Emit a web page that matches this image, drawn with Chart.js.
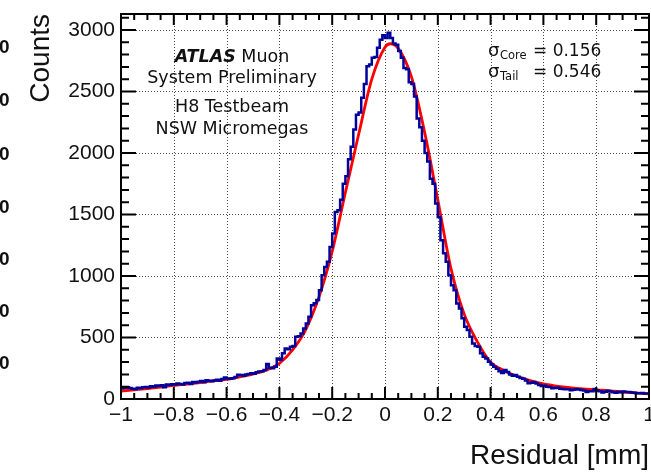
<!DOCTYPE html>
<html>
<head>
<meta charset="utf-8">
<script src="https://cdn.jsdelivr.net/npm/chart.js@4"></script>
<style>
  body { margin: 0; background: #fff; }
  #wrap { width: 651px; height: 476px; }
</style>
</head>
<body>
<div id="wrap"><canvas id="residualChart" width="651" height="476"></canvas></div>
<script>
// histogram: 200 bins of 0.01 mm between -1 and 1
var binLow = -1;
var binWidth = 0.01;
var counts = [
    78, 88, 92, 96, 90,        84, 82, 92, 88, 95,
    98, 94, 104, 100, 110,     106, 112, 96, 118, 114,
    120, 118, 126, 122, 117,   130, 132, 122, 138, 135,
    140, 146, 136, 152, 148,   144, 150, 156, 148, 162,
    174, 166, 164, 168, 178,   198, 196, 190, 200, 204,
    210, 206, 218, 224, 226,   235, 284, 255, 250, 262,
    330, 320, 371, 411, 405,   424, 430, 506, 510, 533,
    574, 614, 668, 763, 779,   804, 885, 1006, 1074, 1115,
    1236, 1345, 1520, 1534, 1620,  1750, 1810, 1950, 2050, 2190,
    2310, 2330, 2450, 2560, 2705,  2720, 2775, 2780, 2855, 2920,
    2957, 2935, 2977, 2935, 2890,  2880, 2830, 2775, 2690, 2680,
    2576, 2560, 2460, 2280, 2210,  2100, 2000, 1930, 1790, 1750,
    1590, 1480, 1290, 1185, 1115,  1006, 925, 885, 777, 736,
    657, 587, 560, 506, 452,   430, 424, 371, 343, 330,
    303, 281, 262, 245, 225,   212, 235, 220, 200, 190,
    196, 180, 170, 164, 150,   128, 132, 138, 125, 114,
    106, 108, 100, 98, 88,     90, 92, 84, 82, 80,
    79, 72, 76, 80, 78,        74, 70, 56, 62, 64,
    82, 70, 62, 52, 58,        67, 60, 54, 50, 58,
    55, 60, 57, 56, 52,        50, 47, 46, 48, 44
];

// red fit curve
var fitX = [-1, -0.95, -0.9, -0.85, -0.8, -0.75, -0.7, -0.65, -0.6, -0.55, -0.5, -0.45, -0.4, -0.35,
    -0.3, -0.25, -0.2, -0.15, -0.1, -0.05, 0, 0.02, 0.05, 0.1, 0.15, 0.2, 0.25, 0.3, 0.35, 0.4,
    0.45, 0.5, 0.55, 0.6, 0.65, 0.7, 0.75, 0.8, 0.85, 0.9, 0.95, 1];
var fitY = [65, 75, 85, 97, 111, 122, 134, 147, 160, 180, 203, 235, 290, 400,
    565, 830, 1200, 1680, 2150, 2600, 2860, 2888, 2850, 2620, 2170, 1620, 1060, 690, 465, 300,
    232, 185, 150, 122, 105, 92, 82, 75, 66, 57, 49, 42];

var xMin = -1, xMax = 1, xTickStep = 0.2, xMinorStep = 0.05;
var yMin = 0, yMax = 3130, yTickStep = 500, yMinorStep = 100;

var histColor = '#00009c';
var fitColor = '#ff0000';
var labelFont = "'Liberation Sans', Arial, Helvetica, sans-serif";
var textFont = "'DejaVu Sans', Verdana, sans-serif";

// histogram outline as steps: one point per lower bin edge plus the closing edge
var histPoints = counts.map((c, i) => ({ x: binLow + i * binWidth, y: c }));
histPoints.push({ x: binLow + counts.length * binWidth, y: counts[counts.length - 1] });

var fitPoints = fitX.map((x, i) => ({ x: x, y: fitY[i] }));

function fmtTick(v) {
    var s = String(Math.round(v * 10) / 10);
    return s.replace('-', '\u2212');
}

// major tick values, so the y axis does not get stretched to 3130/6 steps
function majorTicks(lo, hi, step) {
    var out = [];
    for (var i = 0; lo + i * step <= hi + 1e-9; i++) {
        out.push({ value: Math.round((lo + i * step) * 1000) / 1000 });
    }
    return out;
}

// dotted grid like ROOT's SetGrid
var rootGrid = {
    id: 'rootGrid',
    beforeDatasetsDraw: function(chart) {
        const ctx = chart.ctx;
        const a = chart.chartArea;
        const xs = chart.scales.x, ys = chart.scales.y;
        ctx.save();
        ctx.strokeStyle = 'rgba(0,0,0,0.7)';
        ctx.lineWidth = 1;
        ctx.setLineDash([1, 2]);
        ctx.beginPath();
        majorTicks(xMin, xMax, xTickStep).forEach(t => {
            const px = Math.round(xs.getPixelForValue(t.value)) + 0.5;
            ctx.moveTo(px, a.top); ctx.lineTo(px, a.bottom);
        });
        majorTicks(yMin, yMax, yTickStep).forEach(t => {
            const py = Math.round(ys.getPixelForValue(t.value)) + 0.5;
            ctx.moveTo(a.left, py); ctx.lineTo(a.right, py);
        });
        ctx.stroke();
        ctx.restore();
    }
};

// ROOT-like frame: ticks on all four sides pointing inwards, plus the text boxes
var rootFrame = {
    id: 'rootFrame',
    afterDraw: function(chart) {
        const ctx = chart.ctx;
        const a = chart.chartArea;
        const xs = chart.scales.x, ys = chart.scales.y;
        ctx.save();
        ctx.strokeStyle = '#000';
        ctx.lineWidth = 2;
        ctx.beginPath();
        const nx = Math.round((xMax - xMin) / xMinorStep);
        for (let i = 0; i <= nx; i++) {
            const px = xs.getPixelForValue(xMin + i * xMinorStep);
            const major = i % 4 === 0;
            ctx.moveTo(px, a.bottom); ctx.lineTo(px, a.bottom - (major ? 12 : 6));
            ctx.moveTo(px, a.top); ctx.lineTo(px, a.top + (major ? 11 : 6));
        }
        for (let v = yMin; v <= yMax; v += yMinorStep) {
            const py = ys.getPixelForValue(v);
            const major = v % yTickStep === 0;
            ctx.moveTo(a.left, py); ctx.lineTo(a.left + (major ? 15 : 8), py);
            ctx.moveTo(a.right, py); ctx.lineTo(a.right - (major ? 15 : 8), py);
        }
        ctx.stroke();
        ctx.strokeRect(a.left, a.top, a.right - a.left, a.bottom - a.top);

        ctx.fillStyle = '#111';
        ctx.textBaseline = 'alphabetic';

        // ATLAS label block
        const big = '17.5px ' + textFont;
        ctx.font = 'italic bold ' + big;
        const wA = ctx.measureText('ATLAS').width;
        ctx.font = big;
        const wM = ctx.measureText(' Muon').width;
        let x0 = 232 - (wA + wM) / 2;
        ctx.font = 'italic bold ' + big;
        ctx.textAlign = 'left';
        ctx.fillText('ATLAS', x0, 62);
        ctx.font = big;
        ctx.fillText(' Muon', x0 + wA, 62);
        ctx.textAlign = 'center';
        ctx.fillText('System Preliminary', 232, 83);
        ctx.fillText('H8 Testbeam', 232, 112);
        ctx.fillText('NSW Micromegas', 232, 134);

        // widths of the two gaussians
        ctx.textAlign = 'left';
        ctx.font = '18px ' + textFont;
        ctx.fillText('\u03c3', 488, 56);
        ctx.fillText('\u03c3', 488, 77);
        ctx.font = '11.5px ' + textFont;
        ctx.fillText('Core', 500, 59);
        ctx.fillText('Tail', 500, 80);
        ctx.font = '17px ' + textFont;
        ctx.fillText('= 0.156', 533, 56);
        ctx.fillText('= 0.546', 533, 77);

        // cut-off labels at the left border
        ctx.font = 'bold 19px ' + labelFont;
        ctx.textBaseline = 'middle';
        [48, 101, 155, 208, 260, 312, 364].forEach(y => ctx.fillText('0', -1, y));
        ctx.restore();
    }
};

const ctx = document.getElementById('residualChart').getContext('2d');
new Chart(ctx, {
    type: 'line',
    data: {
        datasets: [{
            label: 'Residuals',
            data: histPoints,
            stepped: 'after',
            borderColor: histColor,
            borderWidth: 2.5,
            pointRadius: 0,
            fill: false
        }, {
            label: 'Fit',
            data: fitPoints,
            borderColor: fitColor,
            borderWidth: 2.8,
            pointRadius: 0,
            cubicInterpolationMode: 'monotone',
            fill: false
        }]
    },
    options: {
        responsive: false,
        animation: false,
        devicePixelRatio: 1,
        layout: { padding: { left: 0, right: 2, top: 14, bottom: 0 } },
        plugins: {
            legend: { display: false },
            tooltip: { enabled: false }
        },
        scales: {
            x: {
                type: 'linear',
                min: xMin,
                max: xMax,
                grid: { display: false, drawTicks: false },
                border: { display: false },
                afterBuildTicks: s => { s.ticks = majorTicks(xMin, xMax, xTickStep); },
                ticks: {
                    padding: 4,
                    maxRotation: 0,
                    autoSkip: false,
                    color: '#111',
                    font: { family: labelFont, size: 21 },
                    callback: v => fmtTick(v)
                },
                title: {
                    display: true,
                    text: 'Residual [mm]',
                    align: 'end',
                    color: '#111',
                    font: { family: labelFont, size: 28, lineHeight: 1 },
                    padding: { top: 0, bottom: 6 }
                },
                afterFit: s => { s.height = 77; s.paddingLeft = 0; s.paddingRight = 0; }
            },
            y: {
                type: 'linear',
                min: yMin,
                max: yMax,
                grid: { display: false, drawTicks: false },
                border: { display: false },
                afterBuildTicks: s => { s.ticks = majorTicks(yMin, yMax, yTickStep); },
                ticks: {
                    padding: 6,
                    autoSkip: false,
                    color: '#111',
                    font: { family: labelFont, size: 21 },
                    callback: v => String(v)
                },
                title: {
                    display: true,
                    text: 'Counts',
                    align: 'end',
                    color: '#111',
                    font: { family: labelFont, size: 28, lineHeight: 1 },
                    padding: { top: 27, bottom: 0 }
                },
                afterFit: s => { s.width = 121; s.paddingTop = 0; s.paddingBottom = 0; }
            }
        }
    },
    plugins: [rootGrid, rootFrame]
});
</script>
</body>
</html>
